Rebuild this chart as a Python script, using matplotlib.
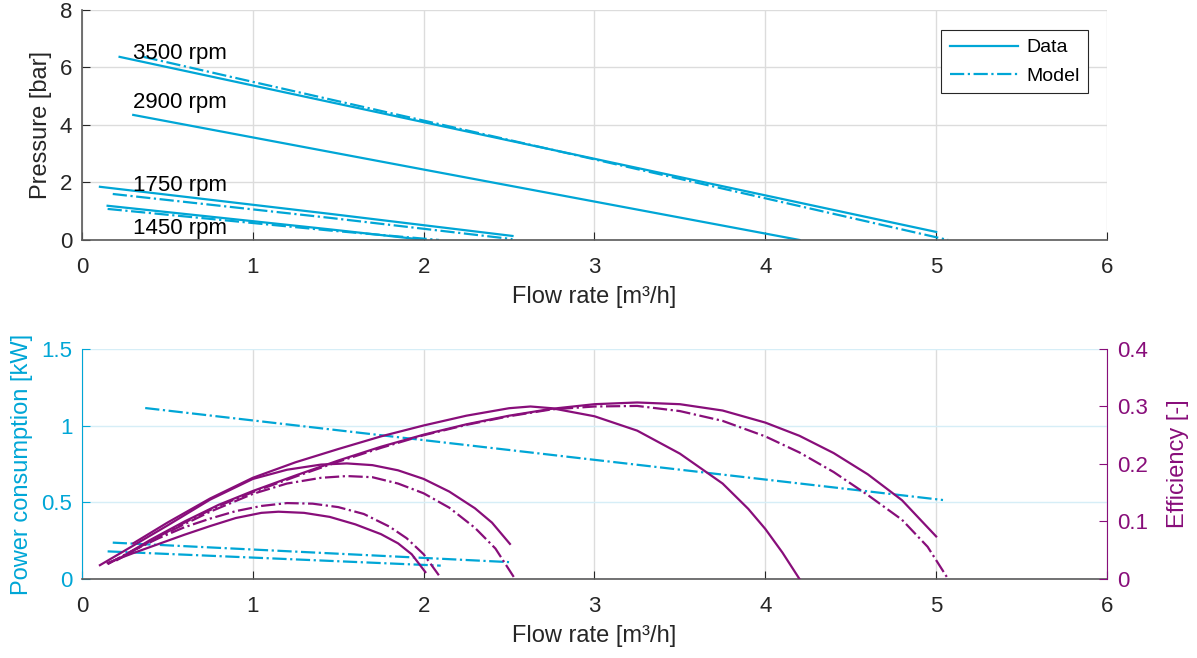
import matplotlib.pyplot as plt
import numpy as np

plt.rcParams['font.family'] = ['Liberation Sans', 'DejaVu Sans']

CYAN = '#00A6D6'
PURPLE = '#880E7A'
GREY = '#262626'

# --- pump head curves (flow rate m3/h, pressure bar) ---
head_3500_q = [0.22, 2.5, 5.0]
head_3500_h = [6.37, 3.46, 0.28]
head_3500_model_q = [0.36, 1.0, 2.5, 4.0, 5.07]
head_3500_model_h = [6.37, 5.50, 3.48, 1.45, 0.0]
head_2900_q = [0.30, 2.0, 4.20]
head_2900_h = [4.35, 2.45, 0.0]
head_1750_q = [0.105, 1.45, 2.52]
head_1750_h = [1.85, 0.91, 0.14]
head_1750_model_q = [0.18, 1.45, 2.52]
head_1750_model_h = [1.60, 0.77, 0.03]
head_1450_q = [0.15, 1.45, 2.01]
head_1450_h = [1.19, 0.37, 0.0]
head_1450_model_q = [0.15, 1.45, 2.09]
head_1450_model_h = [1.08, 0.33, 0.0]

rpm_labels = ['3500 rpm', '2900 rpm', '1750 rpm', '1450 rpm']
rpm_label_x = [0.30, 0.30, 0.30, 0.30]
rpm_label_y = [6.29, 4.58, 1.72, 0.21]

# --- power consumption (model, kW) ---
power_3500_q = [0.37, 5.04]
power_3500_p = [1.115, 0.515]
power_1750_q = [0.18, 2.5]
power_1750_p = [0.237, 0.11]
power_1450_q = [0.15, 2.1]
power_1450_p = [0.18, 0.087]

# --- efficiency curves ---
eff_3500_q = [0.22, 0.4, 0.6, 0.8, 1.0, 1.25, 1.5, 1.75, 2.0, 2.25, 2.5, 2.75, 3.0,
              3.25, 3.5, 3.75, 4.0, 4.2, 4.4, 4.6, 4.8, 5.0]
eff_3500_e = [0.036, 0.068, 0.100, 0.129, 0.153, 0.180, 0.206, 0.230, 0.251, 0.269,
              0.284, 0.296, 0.304, 0.307, 0.304, 0.293, 0.272, 0.249, 0.219, 0.182,
              0.137, 0.074]
eff_3500_model_q = [0.2, 0.4, 0.6, 0.8, 1.0, 1.25, 1.5, 1.75, 2.0, 2.25, 2.5, 2.75,
                    3.0, 3.25, 3.5, 3.75, 4.0, 4.2, 4.4, 4.6, 4.8, 4.95, 5.07]
eff_3500_model_e = [0.032, 0.066, 0.098, 0.127, 0.151, 0.178, 0.204, 0.228, 0.250,
                    0.268, 0.283, 0.295, 0.300, 0.301, 0.292, 0.275, 0.248, 0.220,
                    0.186, 0.146, 0.103, 0.056, 0.0]
eff_2900_q = [0.30, 0.5, 0.75, 1.0, 1.25, 1.5, 1.75, 2.0, 2.25, 2.5, 2.625, 2.75,
              3.0, 3.25, 3.5, 3.75, 3.9, 4.0, 4.1, 4.2]
eff_2900_e = [0.062, 0.098, 0.140, 0.176, 0.203, 0.226, 0.248, 0.267, 0.284, 0.297,
              0.300, 0.297, 0.283, 0.258, 0.218, 0.166, 0.122, 0.087, 0.046, 0.0]
eff_1750_q = [0.105, 0.3, 0.5, 0.75, 1.0, 1.2, 1.4, 1.55, 1.7, 1.85, 2.0, 2.15, 2.3,
              2.4, 2.505]
eff_1750_e = [0.024, 0.058, 0.093, 0.138, 0.174, 0.190, 0.199, 0.201, 0.198, 0.189,
              0.174, 0.152, 0.123, 0.098, 0.061]
eff_1750_model_q = [0.15, 0.35, 0.55, 0.75, 1.0, 1.2, 1.4, 1.55, 1.7, 1.85, 2.0,
                    2.15, 2.3, 2.42, 2.535]
eff_1750_model_e = [0.026, 0.057, 0.088, 0.117, 0.148, 0.166, 0.176, 0.179, 0.177,
                    0.166, 0.149, 0.124, 0.089, 0.053, 0.0]
eff_1450_q = [0.15, 0.3, 0.45, 0.6, 0.75, 0.9, 1.05, 1.15, 1.3, 1.45, 1.6, 1.75,
              1.85, 1.93, 2.01]
eff_1450_e = [0.028, 0.045, 0.061, 0.077, 0.092, 0.106, 0.115, 0.117, 0.115, 0.108,
              0.095, 0.078, 0.062, 0.043, 0.012]
eff_1450_model_q = [0.15, 0.3, 0.45, 0.6, 0.75, 0.9, 1.05, 1.2, 1.35, 1.5, 1.65,
                    1.8, 1.9, 2.0, 2.095]
eff_1450_model_e = [0.026, 0.050, 0.071, 0.090, 0.105, 0.118, 0.127, 0.132, 0.131,
                    0.125, 0.113, 0.091, 0.071, 0.043, 0.004]

fig = plt.figure(figsize=(11.97, 6.58), dpi=100)
ax1 = fig.add_axes([0.0685, 0.6353, 0.8563, 0.3495])
ax2 = fig.add_axes([0.0685, 0.1201, 0.8563, 0.3495])

lw = 1.6
tick_fs = 16
label_fs = 17

# ---------------- top: pressure ----------------
ax1.plot(head_3500_q, head_3500_h, color=CYAN, lw=lw, label='Data')
ax1.plot(head_3500_model_q, head_3500_model_h, color=CYAN, lw=lw, ls='-.', label='Model')
ax1.plot(head_2900_q, head_2900_h, color=CYAN, lw=lw)
ax1.plot(head_1750_q, head_1750_h, color=CYAN, lw=lw)
ax1.plot(head_1750_model_q, head_1750_model_h, color=CYAN, lw=lw, ls='-.')
ax1.plot(head_1450_q, head_1450_h, color=CYAN, lw=lw)
ax1.plot(head_1450_model_q, head_1450_model_h, color=CYAN, lw=lw, ls='-.')

for txt, tx, ty in zip(rpm_labels, rpm_label_x, rpm_label_y):
    ax1.text(tx, ty, txt, fontsize=16, va='baseline', ha='left', color='black')

ax1.set_xlim(0, 6)
ax1.set_ylim(0, 8)
ax1.set_xticks(range(7))
ax1.set_yticks([0, 2, 4, 6, 8])
ax1.set_xlabel('Flow rate [m³/h]', fontsize=label_fs, color=GREY, labelpad=6)
ax1.set_ylabel('Pressure [bar]', fontsize=label_fs, color=GREY, labelpad=6)
ax1.grid(True, color='#dcdcdc', lw=1)
ax1.set_axisbelow(True)
for s in ['top', 'right']:
    ax1.spines[s].set_visible(False)
for s in ['left', 'bottom']:
    ax1.spines[s].set_color('#5a5a5a')
    ax1.spines[s].set_linewidth(1.2)
ax1.tick_params(axis='x', direction='in', length=6, labelsize=tick_fs, colors=GREY, pad=12)
ax1.tick_params(axis='y', direction='in', length=6, labelsize=tick_fs, colors=GREY, pad=7)

leg = ax1.legend(loc='upper right', bbox_to_anchor=(0.9815, 0.913), borderaxespad=0,
                 fontsize=14, fancybox=False, edgecolor=GREY, framealpha=1,
                 handlelength=3.5, borderpad=0.45, labelspacing=0.55, handletextpad=0.4)
leg.get_frame().set_linewidth(0.8)

# ---------------- bottom: power and efficiency ----------------
ax2.plot(power_3500_q, power_3500_p, color=CYAN, lw=lw, ls='-.')
ax2.plot(power_1750_q, power_1750_p, color=CYAN, lw=lw, ls='-.')
ax2.plot(power_1450_q, power_1450_p, color=CYAN, lw=lw, ls='-.')
ax2.set_xlim(0, 6)
ax2.set_ylim(0, 1.5)
ax2.set_xticks(range(7))
ax2.set_yticks([0, 0.5, 1, 1.5])
ax2.set_yticklabels(['0', '0.5', '1', '1.5'])
ax2.set_xlabel('Flow rate [m³/h]', fontsize=label_fs, color=GREY, labelpad=6)
ax2.set_ylabel('Power consumption [kW]', fontsize=label_fs, color=CYAN, labelpad=6)
ax2.xaxis.grid(True, color='#dcdcdc', lw=1)
ax2.yaxis.grid(True, color='#d6eef7', lw=1)
ax2.set_axisbelow(True)
ax2.spines['top'].set_visible(False)
ax2.spines['right'].set_visible(False)
ax2.spines['left'].set_color(CYAN)
ax2.spines['bottom'].set_color('#5a5a5a')
ax2.spines['bottom'].set_linewidth(1.2)
ax2.tick_params(axis='x', direction='in', length=6, labelsize=tick_fs, colors=GREY, pad=12)
ax2.tick_params(axis='y', direction='in', length=6, labelsize=tick_fs, colors=CYAN, pad=7)

ax3 = ax2.twinx()
ax3.plot(eff_3500_q, eff_3500_e, color=PURPLE, lw=lw)
ax3.plot(eff_3500_model_q, eff_3500_model_e, color=PURPLE, lw=lw, ls='-.')
ax3.plot(eff_2900_q, eff_2900_e, color=PURPLE, lw=lw)
ax3.plot(eff_1750_q, eff_1750_e, color=PURPLE, lw=lw)
ax3.plot(eff_1750_model_q, eff_1750_model_e, color=PURPLE, lw=lw, ls='-.')
ax3.plot(eff_1450_q, eff_1450_e, color=PURPLE, lw=lw)
ax3.plot(eff_1450_model_q, eff_1450_model_e, color=PURPLE, lw=lw, ls='-.')
ax3.set_ylim(0, 0.4)
ax3.set_yticks([0, 0.1, 0.2, 0.3, 0.4])
ax3.set_yticklabels(['0', '0.1', '0.2', '0.3', '0.4'])
ax3.set_ylabel('Efficiency [-]', fontsize=label_fs, color=PURPLE, labelpad=14)
for s in ['top', 'left', 'bottom']:
    ax3.spines[s].set_visible(False)
ax3.spines['right'].set_color(PURPLE)
ax3.tick_params(axis='y', direction='in', length=6, labelsize=tick_fs, colors=PURPLE, pad=7)

fig.savefig('out.png', dpi=100)
